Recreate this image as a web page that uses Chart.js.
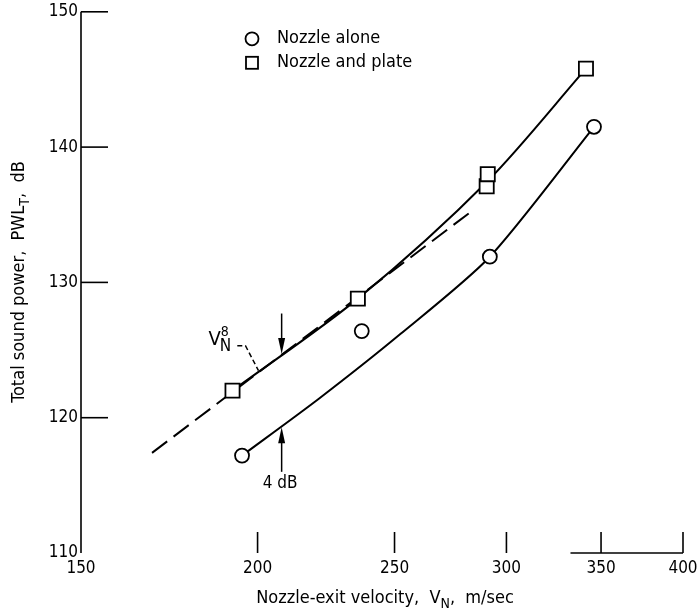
<!DOCTYPE html>
<html>
<head>
<meta charset="utf-8">
<script src="https://cdn.jsdelivr.net/npm/chart.js@4.4.1/dist/chart.umd.min.js"></script>
<style>
  html,body{margin:0;padding:0;background:#fff}
  #wrap{width:697px;height:614px}
</style>
</head>
<body>
<div id="wrap"><canvas id="c" width="697" height="614"></canvas></div>
<script>
const FONT='"DejaVu Sans Condensed","Liberation Sans Narrow",sans-serif';

// axes
const X_TICKS=[150,200,250,300,350,400];
const Y_TICKS=[110,120,130,140,150];

// measured points, m/sec vs dB
const aloneV=[195,237,292,346];
const aloneDb=[117.2,126.4,131.9,141.5];
const plateV=[192,235.5,290.5,291,341.5];
const plateDb=[122.0,128.8,137.1,138.0,145.8];

// faired curves
const aloneCurveV=[195,221,252.5,292,346];
const aloneCurveDb=[117.2,121.4,126.2,131.9,141.5];
const plateCurveV=[192,235.5,291,341.5];
const plateCurveDb=[122.0,128.8,137.5,145.8];

// V_N^8 reference line
const v8V=[168.4,284.6];
const v8Db=[117.4,135.4];

const pts=(xs,ys)=>xs.map((x,i)=>({x:x,y:ys[i]}));

function arrow(ctx,x,y0,y1){
  // shaft from y0, head at y1
  const d=Math.sign(y1-y0);
  ctx.beginPath(); ctx.moveTo(x,y0); ctx.lineTo(x,y1-d*10); ctx.stroke();
  ctx.beginPath(); ctx.moveTo(x,y1); ctx.lineTo(x-3.5,y1-d*16); ctx.lineTo(x+3.5,y1-d*16);
  ctx.closePath(); ctx.fill();
}

// parts: [text, size, dy]
function rich(ctx,parts,x,y,align){
  let w=0;
  parts.forEach(p=>{ ctx.font=p[1]+'px '+FONT; w+=ctx.measureText(p[0]).width; });
  let cx=align==='center'?x-w/2:x;
  parts.forEach(p=>{
    ctx.font=p[1]+'px '+FONT;
    ctx.fillText(p[0],cx,y+p[2]);
    cx+=ctx.measureText(p[0]).width;
  });
}

const decor={
  id:'decor',
  afterDatasetsDraw(chart){
    const {ctx,chartArea:a,scales:{x,y}}=chart;
    ctx.save();
    ctx.strokeStyle='#000'; ctx.fillStyle='#000'; ctx.lineWidth=1.6;

    // left axis with inward ticks
    ctx.beginPath(); ctx.moveTo(a.left,a.top); ctx.lineTo(a.left,a.bottom); ctx.stroke();
    Y_TICKS.filter(v=>v>110).forEach(v=>{
      const py=y.getPixelForValue(v);
      ctx.beginPath(); ctx.moveTo(a.left,py); ctx.lineTo(a.left+27,py); ctx.stroke();
    });
    // broken bottom axis, upward ticks
    ctx.beginPath(); ctx.moveTo(x.getPixelForValue(333),a.bottom); ctx.lineTo(a.right,a.bottom); ctx.stroke();
    X_TICKS.filter(v=>v>150).forEach(v=>{
      const px=x.getPixelForValue(v);
      ctx.beginPath(); ctx.moveTo(px,a.bottom); ctx.lineTo(px,a.bottom-21); ctx.stroke();
    });

    // arrows at 208 m/sec
    const ax=x.getPixelForValue(208);
    ctx.lineWidth=1.5;
    arrow(ctx,ax,y.getPixelForValue(127.7),y.getPixelForValue(124.7));
    arrow(ctx,ax,y.getPixelForValue(116.0),y.getPixelForValue(119.3));
    ctx.textBaseline='middle'; ctx.textAlign='left';
    rich(ctx,[['4 dB',17,0]],x.getPixelForValue(207.5),y.getPixelForValue(115.1),'center');

    // V_N^8 label with dashed leader
    ctx.setLineDash([5,3]);
    ctx.beginPath();
    ctx.moveTo(x.getPixelForValue(193.5),y.getPixelForValue(125.32));
    ctx.lineTo(x.getPixelForValue(196.1),y.getPixelForValue(125.32));
    ctx.lineTo(x.getPixelForValue(200.3),y.getPixelForValue(123.48));
    ctx.stroke();
    ctx.setLineDash([]);
    ctx.textBaseline='alphabetic';
    const vx=x.getPixelForValue(184.6), vy=y.getPixelForValue(125.4);
    rich(ctx,[['V',20,0]],vx,vy,'left');
    ctx.font='20px '+FONT;
    const vw=ctx.measureText('V').width;
    rich(ctx,[['8',14,-9]],vx+vw,vy,'left');
    rich(ctx,[['N',17,6]],vx+vw-1,vy,'left');

    // legend
    const lx=a.left+171, ly1=a.top+27, ly2=a.top+51;
    ctx.lineWidth=1.8;
    ctx.beginPath(); ctx.arc(lx,ly1,6.5,0,Math.PI*2); ctx.stroke();
    ctx.strokeRect(lx-6,ly2-6,12,12);
    ctx.textBaseline='middle';
    rich(ctx,[['Nozzle alone',18,0]],lx+25,ly1,'left');
    rich(ctx,[['Nozzle and plate',18,0]],lx+25,ly2,'left');

    // axis titles
    ctx.textBaseline='alphabetic';
    rich(ctx,[['Nozzle-exit velocity,  V',18,0],['N',14,5],[',  m/sec',18,0]],(a.left+a.right)/2+3,603,'center');
    ctx.translate(24,282); ctx.rotate(-Math.PI/2);
    rich(ctx,[['Total sound power,  PWL',18,0],['T',14,5],[',  dB',18,0]],0,0,'center');
    ctx.restore();
  }
};

const tickFont={family:FONT,size:17,lineHeight:1};

new Chart(document.getElementById('c'),{
  type:'scatter',
  data:{datasets:[
    {label:'Nozzle alone',data:pts(aloneV,aloneDb),order:0,pointStyle:'circle',pointRadius:7,
     pointBorderWidth:1.8,borderColor:'#000',backgroundColor:'#fff',showLine:false},
    {label:'Nozzle and plate',data:pts(plateV,plateDb),order:0,pointStyle:'rect',pointRadius:10,
     pointBorderWidth:1.8,borderColor:'#000',backgroundColor:'#fff',showLine:false},
    {label:'alone curve',data:pts(aloneCurveV,aloneCurveDb),order:1,showLine:true,pointRadius:0,
     borderColor:'#000',borderWidth:2,tension:0.25},
    {label:'plate curve',data:pts(plateCurveV,plateCurveDb),order:1,showLine:true,pointRadius:0,
     borderColor:'#000',borderWidth:2,tension:0.3},
    {label:'V8',data:pts(v8V,v8Db),order:2,showLine:true,pointRadius:0,
     borderColor:'#000',borderWidth:2,borderDash:[19,8]}
  ]},
  options:{
    responsive:false,animation:false,devicePixelRatio:1,
    layout:{padding:{top:10,right:14,left:0,bottom:0}},
    plugins:{legend:{display:false},tooltip:{enabled:false}},
    scales:{
      x:{type:'logarithmic',min:150,max:400,
        afterBuildTicks:s=>{ s.ticks=X_TICKS.map(v=>({value:v})); },
        afterFit:s=>{ s.height=61; s.paddingLeft=0; s.paddingRight=0; },
        grid:{display:false,drawTicks:false},border:{display:false},
        ticks:{color:'#000',font:tickFont,padding:7,maxRotation:0,autoSkip:false,callback:v=>String(v)}},
      y:{min:110,max:150,
        afterBuildTicks:s=>{ s.ticks=Y_TICKS.map(v=>({value:v})); },
        afterFit:s=>{ s.width=81; s.paddingTop=0; s.paddingBottom=0; },
        grid:{display:false,drawTicks:false},border:{display:false},
        ticks:{color:'#000',font:tickFont,padding:3,callback:v=>String(v)}}
    }
  },
  plugins:[decor]
});
</script>
</body>
</html>
